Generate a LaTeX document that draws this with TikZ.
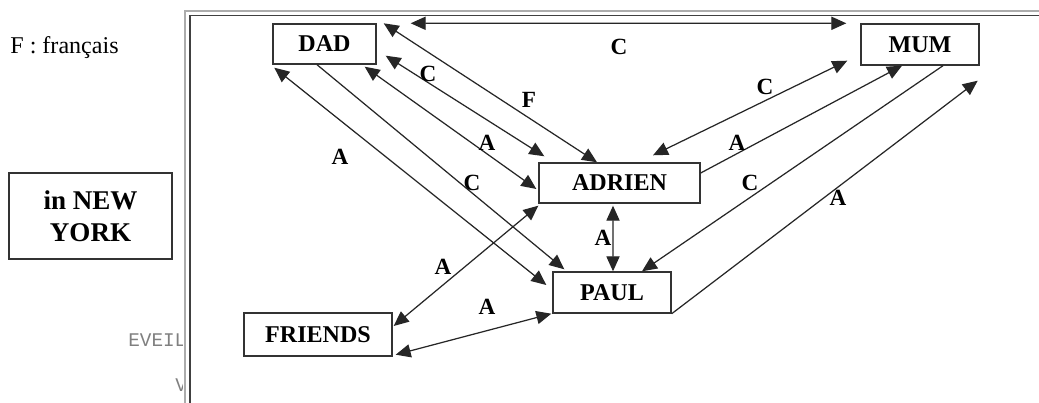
\documentclass[tikz,border=0pt]{standalone}
\usepackage{fontspec}
\setmainfont{Liberation Serif}
\setmonofont{Liberation Mono}
\usepackage{tikz}
\usetikzlibrary{arrows.meta,positioning}

\begin{document}
\begin{tikzpicture}
	\tikzstyle{Person}	= [rectangle, draw=black!80, line width=0.8pt, inner sep=0pt, minimum height=0.8cm, font=\fontsize{13.7}{16}\selectfont\bfseries]
	\tikzstyle{Place}	= [Person, align=center, minimum width=3.26cm, minimum height=1.72cm, font=\fontsize{15.4}{18.2}\selectfont\bfseries]
	\tikzstyle{Lang}	= [inner sep=0pt, font=\fontsize{13.2}{16}\selectfont\bfseries]
	\tikzstyle{Note}	= [inner sep=0pt, anchor=base west, font=\fontsize{13.7}{16}\selectfont]
	\tikzstyle{Cut}		= [inner sep=0pt, anchor=base west, gray, font=\ttfamily\fontsize{11}{13}\selectfont]
	\tikzstyle{Link}	= [black!85, line width=0.7pt, >={Triangle[length=8.5pt, width=7.5pt]}]
	\tikzstyle{Both}	= [<->]
	\tikzstyle{One}		= [->]

	\useasboundingbox (0,0) rectangle (20.78,8.06);
	\clip (0,0) rectangle (20.78,8.06);

	% left side
	\node (key) at (0.2,6.98) [Note] {F : français};
	\node (ny) at (1.81,3.74) [Place] {in NEW\\YORK};
	\node (cut1) at (2.56,1.12) [Cut] {EVEIL};
	\node (cut2) at (3.50,0.22) [Cut] {V};

	% frame
	\fill [white] (3.66,-1) rectangle (22,7.84);
	\draw [gray!65, line width=1.1pt] (3.70,-1) -- (3.70,7.84) -- (22,7.84);
	\draw [black!75, line width=1.1pt] (3.80,-1) -- (3.80,7.75) -- (22,7.75);

	\node (dad) at (6.49,7.18) [Person, minimum width=2.06cm] {DAD};
	\node (mum) at (18.40,7.17) [Person, minimum width=2.36cm, minimum height=0.82cm] {MUM};
	\node (adrien) at (12.39,4.40) [Person, minimum width=3.22cm] {ADRIEN};
	\node (paul) at (12.24,2.21) [Person, minimum width=2.36cm, minimum height=0.82cm] {PAUL};
	\node (friends) at (6.36,1.37) [Person, minimum width=2.96cm, minimum height=0.86cm] {FRIENDS};

	\draw ([xshift=0.68cm]dad.north east) to ([xshift=-0.28cm]mum.north west) [Link, Both];
	\draw ([xshift=0.14cm]dad.north east) to ([xshift=-0.45cm]adrien.north) [Link, Both];
	\draw ([xshift=0.18cm, yshift=0.18cm]dad.south east) to ([xshift=0.12cm, yshift=0.12cm]adrien.north west) [Link, Both];
	\draw ([xshift=-0.24cm, yshift=-0.04cm]dad.south east) to ([xshift=-0.04cm, yshift=-0.12cm]adrien.west) [Link, Both];
	\draw ([xshift=-0.15cm]dad.south) to ([xshift=0.24cm, yshift=0.04cm]paul.north west) [Link, One];
	\draw ([xshift=0.04cm, yshift=-0.06cm]dad.south west) to ([xshift=-0.12cm, yshift=0.15cm]paul.west) [Link, Both];
	\draw ([xshift=-0.26cm, yshift=0.1cm]mum.south west) to ([xshift=0.67cm, yshift=0.14cm]adrien.north) [Link, Both];
	\draw ([yshift=0.2cm]adrien.east) to ([xshift=-0.36cm]mum.south) [Link, One];
	\draw ([xshift=0.46cm]mum.south) to ([xshift=0.6cm]paul.north) [Link, One];
	\draw (paul.south east) to ([xshift=-0.04cm, yshift=-0.3cm]mum.south east) [Link, One];
	\draw ([xshift=-0.13cm, yshift=-0.04cm]adrien.south) to ([xshift=0.02cm]paul.north) [Link, Both];
	\draw ([yshift=-0.04cm]adrien.south west) to ([xshift=0.02cm, yshift=0.17cm]friends.east) [Link, Both];
	\draw ([xshift=-0.02cm]paul.south west) to ([xshift=0.06cm, yshift=0.04cm]friends.south east) [Link, Both];

	% languages
	\node (l1) at (12.38,7.12) [Lang] {C};
	\node (l2) at (8.56,6.58) [Lang] {C};
	\node (l3) at (10.58,6.06) [Lang] {F};
	\node (l4) at (15.30,6.32) [Lang] {C};
	\node (l5) at (14.74,5.20) [Lang] {A};
	\node (l6) at (9.74,5.20) [Lang] {A};
	\node (l7) at (6.80,4.92) [Lang] {A};
	\node (l8) at (9.44,4.40) [Lang] {C};
	\node (l9) at (15.00,4.40) [Lang] {C};
	\node (l10) at (16.76,4.10) [Lang] {A};
	\node (l11) at (12.06,3.30) [Lang] {A};
	\node (l12) at (8.86,2.72) [Lang] {A};
	\node (l13) at (9.74,1.92) [Lang] {A};
\end{tikzpicture}
\end{document}
